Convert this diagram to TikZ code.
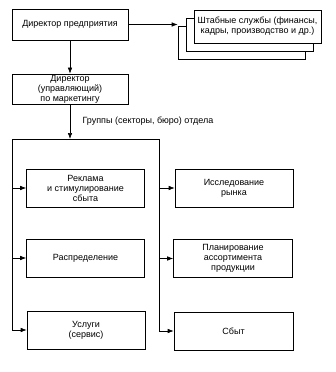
\documentclass[tikz,border=0pt]{standalone}
\usepackage{fontspec}
\setmainfont{Liberation Sans}
\usetikzlibrary{arrows.meta}
\begin{document}
\begin{tikzpicture}[x=1pt,y=1pt,
  every node/.style={font=\fontsize{9}{10}\selectfont},
  box/.style={draw,line width=0.6pt,rectangle,align=center,inner sep=1pt},
  conn/.style={line width=0.6pt},
  arr/.style={line width=0.6pt,-{Latex[length=6pt,width=4.5pt]}}]
\useasboundingbox (0,0) rectangle (335,-372);
% stacked staff boxes
\node[box,fill=white,minimum width=127,minimum height=33] (back) at (241.5,-42.5) {};
\node[box,fill=white,minimum width=127,minimum height=33] (mid) at (249.5,-34.5) {};
\node[box,fill=white,minimum width=127,minimum height=33] (staff) at (257.5,-26.5) {Штабные службы (финансы,\\кадры, производство и др.)};
% top boxes
\node[box,minimum width=116,minimum height=31] (dir) at (70,-24.5) {Директор предприятия};
\node[box,minimum width=116,minimum height=30] (mgr) at (70,-89) {Директор\\(управляющий)\\по маркетингу};
\draw[arr] (dir.east) -- (dir.east -| back.west);
\draw[arr] (dir.south) -- (mgr.north);
% groups
\coordinate (tl) at (12,-139);
\coordinate (tr) at (159,-139);
\coordinate (tm) at (70,-139);
\draw[arr] (mgr.south) -- (tm);
\node[anchor=west] (grp) at (79,-121) {Группы (секторы, бюро) отдела};
% left column
\node[box,minimum width=118,minimum height=38] (rek) at (85.5,-188) {Реклама\\и стимулирование\\сбыта};
\node[box,minimum width=118,minimum height=38] (ras) at (85.5,-258) {Распределение};
\node[box,minimum width=118,minimum height=38] (usl) at (86,-330) {Услуги\\(сервис)};
% right column
\node[box,minimum width=118,minimum height=38] (iss) at (234,-188) {Исследование\\рынка};
\node[box,minimum width=119,minimum height=38] (pla) at (233,-258.5) {Планирование\\ассортимента\\продукции};
\node[box,minimum width=119,minimum height=38] (sbt) at (233.5,-331) {Сбыт};
% container lines
\draw[conn] (tl) -- (tr);
\draw[arr] (tl) |- (usl.west);
\draw[arr] (tl |- rek.west) -- (rek.west);
\draw[arr] (tl |- ras.west) -- (ras.west);
\draw[arr] (tr) |- (sbt.west);
\draw[arr] (tr |- iss.west) -- (iss.west);
\draw[arr] (tr |- pla.west) -- (pla.west);
\end{tikzpicture}
\end{document}
